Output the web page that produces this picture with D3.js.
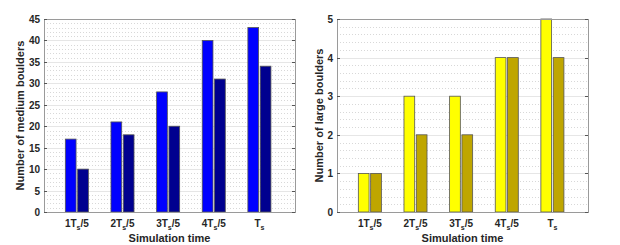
<!DOCTYPE html>
<html>
<head>
<meta charset="utf-8">
<script src="https://cdn.jsdelivr.net/npm/d3@7"></script>
<style>
  body { margin: 0; background: #fff; }
  svg { font-family: "Liberation Sans", Arial, sans-serif; }
</style>
</head>
<body>
<svg id="chart" width="620" height="245"></svg>
<script>
// categories (prefix, subscript, suffix)
var categories = [["1T", "s", "/5"], ["2T", "s", "/5"], ["3T", "s", "/5"], ["4T", "s", "/5"], ["T", "s", ""]];
var mediumA = [17, 21, 28, 40, 43];
var mediumB = [10, 18, 20, 31, 34];
var largeA = [1, 3, 3, 4, 5];
var largeB = [1, 2, 2, 4, 4];

var svg = d3.select("#chart");

// draws one MATLAB-style bar panel
function drawPanel(opts) {
  var left = opts.left, right = opts.right, top = 19, bottom = 212;
  var x = d3.scaleLinear().domain([0.28, 5.78]).range([left, right]);
  var y = d3.scaleLinear().domain([0, opts.ymax]).range([bottom, top]);
  var g = svg.append("g");

  // minor grid (dotted)
  var minor = d3.range(0, opts.ymax + 1e-9, opts.minorStep);
  g.selectAll("line.minor").data(minor).enter().append("line")
    .attr("x1", left).attr("x2", right)
    .attr("y1", d => Math.round(y(d)) + 0.5).attr("y2", d => Math.round(y(d)) + 0.5)
    .attr("stroke", "#d8d8d8").attr("stroke-width", 1).attr("stroke-dasharray", "1,2");
  // major grid
  var major = d3.range(0, opts.ymax + 1e-9, opts.majorStep);
  g.selectAll("line.major").data(major).enter().append("line")
    .attr("x1", left).attr("x2", right)
    .attr("y1", d => Math.round(y(d)) + 0.5).attr("y2", d => Math.round(y(d)) + 0.5)
    .attr("stroke", "#e6e6e6").attr("stroke-width", 1);

  // bars
  var bw = 0.235, off = 0.135;
  var series = [{vals: opts.a, fill: opts.colA, dx: -off}, {vals: opts.b, fill: opts.colB, dx: off}];
  series.forEach(function(s) {
    g.selectAll(null).data(s.vals).enter().append("rect")
      .attr("x", (d, i) => x(i + 1 + s.dx - bw / 2))
      .attr("width", x(bw) - x(0))
      .attr("y", d => y(d))
      .attr("height", d => y(0) - y(d))
      .attr("fill", s.fill)
      .attr("stroke", opts.edge).attr("stroke-width", 0.8);
  });

  // box
  g.append("rect").attr("x", left + 0.5).attr("y", top + 0.5)
    .attr("width", right - left).attr("height", bottom - top)
    .attr("fill", "none").attr("stroke", "#9a9a9a").attr("stroke-width", 1);

  // y ticks both sides
  major.forEach(function(v) {
    var yy = Math.round(y(v)) + 0.5;
    g.append("line").attr("x1", left).attr("x2", left + 3).attr("y1", yy).attr("y2", yy).attr("stroke", "#555");
    g.append("line").attr("x1", right - 3).attr("x2", right).attr("y1", yy).attr("y2", yy).attr("stroke", "#555");
    g.append("text").attr("x", left - 4).attr("y", yy + 3.5)
      .attr("text-anchor", "end").attr("font-size", 10).attr("font-weight", "bold").attr("fill", "#262626")
      .text(v);
  });

  // x tick labels with subscripts
  categories.forEach(function(c, i) {
    var t = g.append("text").attr("x", x(i + 1)).attr("y", 227)
      .attr("text-anchor", "middle").attr("font-size", 10).attr("font-weight", "bold").attr("fill", "#262626");
    t.append("tspan").text(c[0]);
    t.append("tspan").attr("font-size", 7).attr("dy", 3).text(c[1]);
    if (c[2]) t.append("tspan").attr("dy", -3).text(c[2]);
  });

  // axis titles
  g.append("text").attr("x", (left + right) / 2).attr("y", 242)
    .attr("text-anchor", "middle").attr("font-size", 11).attr("font-weight", "bold").attr("fill", "#262626")
    .text("Simulation time");
  g.append("text")
    .attr("transform", "translate(" + opts.ylabX + "," + (top + bottom) / 2 + ") rotate(-90)")
    .attr("text-anchor", "middle").attr("font-size", 11).attr("font-weight", "bold").attr("fill", "#262626")
    .text(opts.ylabel);
}

drawPanel({left: 44, right: 295, ymax: 45, majorStep: 5, minorStep: 1,
  a: mediumA, b: mediumB, colA: "#0000ff", colB: "#00008f", edge: "#555",
  ylabel: "Number of medium boulders", ylabX: 24});
drawPanel({left: 337, right: 588, ymax: 5, majorStep: 1, minorStep: 0.2,
  a: largeA, b: largeB, colA: "#ffff00", colB: "#bfa600", edge: "#555",
  ylabel: "Number of large boulders", ylabX: 323});
</script>
</body>
</html>
